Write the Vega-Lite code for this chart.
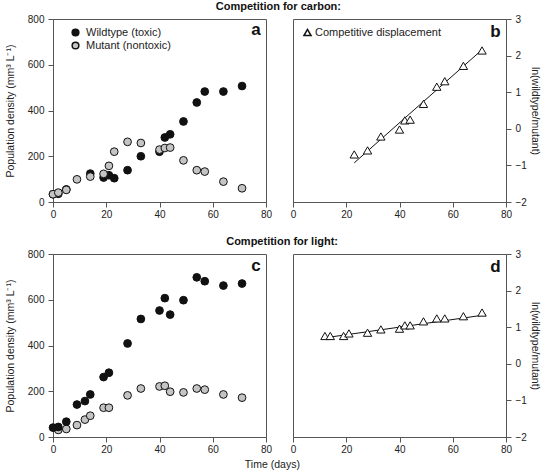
{
  "$schema": "https://vega.github.io/schema/vega-lite/v6.json",
  "padding": {"left": 4, "top": 0, "right": 1, "bottom": 1},
  "bounds": "flush",
  "columns": 2,
  "spacing": {"row": 52, "column": 27},
  "resolve": {"scale": {"fill": "independent", "shape": "independent"}, "legend": {"fill": "independent", "shape": "independent"}},
  "title": {"text": "Time (days)", "orient": "bottom", "anchor": "middle", "fontSize": 10.5, "fontWeight": "normal", "color": "#222", "offset": 5},
  "datasets": {
    "carbonPop": [
      {"day": 0, "density": 34, "strain": "Wildtype (toxic)"},
      {"day": 2, "density": 36, "strain": "Wildtype (toxic)"},
      {"day": 5, "density": 55, "strain": "Wildtype (toxic)"},
      {"day": 14, "density": 124, "strain": "Wildtype (toxic)"},
      {"day": 19, "density": 107, "strain": "Wildtype (toxic)"},
      {"day": 21, "density": 117, "strain": "Wildtype (toxic)"},
      {"day": 23, "density": 104, "strain": "Wildtype (toxic)"},
      {"day": 28, "density": 139, "strain": "Wildtype (toxic)"},
      {"day": 33, "density": 200, "strain": "Wildtype (toxic)"},
      {"day": 40, "density": 220, "strain": "Wildtype (toxic)"},
      {"day": 42, "density": 282, "strain": "Wildtype (toxic)"},
      {"day": 44, "density": 296, "strain": "Wildtype (toxic)"},
      {"day": 49, "density": 352, "strain": "Wildtype (toxic)"},
      {"day": 54, "density": 435, "strain": "Wildtype (toxic)"},
      {"day": 57, "density": 483, "strain": "Wildtype (toxic)"},
      {"day": 64, "density": 483, "strain": "Wildtype (toxic)"},
      {"day": 71, "density": 507, "strain": "Wildtype (toxic)"},
      {"day": 0, "density": 34, "strain": "Mutant (nontoxic)"},
      {"day": 2, "density": 41, "strain": "Mutant (nontoxic)"},
      {"day": 5, "density": 53, "strain": "Mutant (nontoxic)"},
      {"day": 9, "density": 99, "strain": "Mutant (nontoxic)"},
      {"day": 14, "density": 111, "strain": "Mutant (nontoxic)"},
      {"day": 19, "density": 123, "strain": "Mutant (nontoxic)"},
      {"day": 21, "density": 158, "strain": "Mutant (nontoxic)"},
      {"day": 23, "density": 220, "strain": "Mutant (nontoxic)"},
      {"day": 28, "density": 263, "strain": "Mutant (nontoxic)"},
      {"day": 33, "density": 258, "strain": "Mutant (nontoxic)"},
      {"day": 40, "density": 229, "strain": "Mutant (nontoxic)"},
      {"day": 42, "density": 236, "strain": "Mutant (nontoxic)"},
      {"day": 44, "density": 238, "strain": "Mutant (nontoxic)"},
      {"day": 49, "density": 182, "strain": "Mutant (nontoxic)"},
      {"day": 54, "density": 139, "strain": "Mutant (nontoxic)"},
      {"day": 57, "density": 133, "strain": "Mutant (nontoxic)"},
      {"day": 64, "density": 89, "strain": "Mutant (nontoxic)"},
      {"day": 71, "density": 60, "strain": "Mutant (nontoxic)"}
    ],
    "lightPop": [
      {"day": 2, "density": 31, "strain": "Mutant (nontoxic)"},
      {"day": 5, "density": 35, "strain": "Mutant (nontoxic)"},
      {"day": 9, "density": 52, "strain": "Mutant (nontoxic)"},
      {"day": 12, "density": 76, "strain": "Mutant (nontoxic)"},
      {"day": 14, "density": 93, "strain": "Mutant (nontoxic)"},
      {"day": 19, "density": 128, "strain": "Mutant (nontoxic)"},
      {"day": 21, "density": 128, "strain": "Mutant (nontoxic)"},
      {"day": 28, "density": 182, "strain": "Mutant (nontoxic)"},
      {"day": 33, "density": 212, "strain": "Mutant (nontoxic)"},
      {"day": 40, "density": 221, "strain": "Mutant (nontoxic)"},
      {"day": 42, "density": 224, "strain": "Mutant (nontoxic)"},
      {"day": 44, "density": 198, "strain": "Mutant (nontoxic)"},
      {"day": 49, "density": 195, "strain": "Mutant (nontoxic)"},
      {"day": 54, "density": 212, "strain": "Mutant (nontoxic)"},
      {"day": 57, "density": 207, "strain": "Mutant (nontoxic)"},
      {"day": 64, "density": 186, "strain": "Mutant (nontoxic)"},
      {"day": 71, "density": 172, "strain": "Mutant (nontoxic)"},
      {"day": 0, "density": 41, "strain": "Wildtype (toxic)"},
      {"day": 2, "density": 44, "strain": "Wildtype (toxic)"},
      {"day": 5, "density": 67, "strain": "Wildtype (toxic)"},
      {"day": 9, "density": 142, "strain": "Wildtype (toxic)"},
      {"day": 12, "density": 157, "strain": "Wildtype (toxic)"},
      {"day": 14, "density": 186, "strain": "Wildtype (toxic)"},
      {"day": 19, "density": 262, "strain": "Wildtype (toxic)"},
      {"day": 21, "density": 281, "strain": "Wildtype (toxic)"},
      {"day": 28, "density": 409, "strain": "Wildtype (toxic)"},
      {"day": 33, "density": 516, "strain": "Wildtype (toxic)"},
      {"day": 40, "density": 553, "strain": "Wildtype (toxic)"},
      {"day": 42, "density": 607, "strain": "Wildtype (toxic)"},
      {"day": 44, "density": 535, "strain": "Wildtype (toxic)"},
      {"day": 49, "density": 598, "strain": "Wildtype (toxic)"},
      {"day": 54, "density": 698, "strain": "Wildtype (toxic)"},
      {"day": 57, "density": 681, "strain": "Wildtype (toxic)"},
      {"day": 64, "density": 662, "strain": "Wildtype (toxic)"},
      {"day": 71, "density": 671, "strain": "Wildtype (toxic)"}
    ],
    "carbonRatio": [
      {"day": 23, "ln": -0.70, "series": "Competitive displacement"},
      {"day": 28, "ln": -0.59, "series": "Competitive displacement"},
      {"day": 33, "ln": -0.21, "series": "Competitive displacement"},
      {"day": 40, "ln": -0.02, "series": "Competitive displacement"},
      {"day": 42, "ln": 0.23, "series": "Competitive displacement"},
      {"day": 44, "ln": 0.25, "series": "Competitive displacement"},
      {"day": 49, "ln": 0.68, "series": "Competitive displacement"},
      {"day": 54, "ln": 1.15, "series": "Competitive displacement"},
      {"day": 57, "ln": 1.30, "series": "Competitive displacement"},
      {"day": 64, "ln": 1.72, "series": "Competitive displacement"},
      {"day": 71, "ln": 2.14, "series": "Competitive displacement"}
    ],
    "carbonFit": [
      {"day": 23, "ln": -0.93},
      {"day": 71, "ln": 2.16}
    ],
    "lightRatio": [
      {"day": 12, "ln": 0.76},
      {"day": 14, "ln": 0.76},
      {"day": 19, "ln": 0.76},
      {"day": 21, "ln": 0.83},
      {"day": 28, "ln": 0.85},
      {"day": 33, "ln": 0.94},
      {"day": 40, "ln": 0.96},
      {"day": 42, "ln": 1.05},
      {"day": 44, "ln": 1.05},
      {"day": 49, "ln": 1.16},
      {"day": 54, "ln": 1.24},
      {"day": 57, "ln": 1.24},
      {"day": 64, "ln": 1.30},
      {"day": 71, "ln": 1.40}
    ],
    "lightFit": [
      {"day": 11, "ln": 0.70},
      {"day": 72.5, "ln": 1.34}
    ],
    "labA": [{"label": "a"}],
    "labB": [{"label": "b"}],
    "labC": [{"label": "c"}],
    "labD": [{"label": "d"}]
  },
  "concat": [
    {
      "width": 213, "height": 183,
      "title": {"text": "Competition for carbon:", "anchor": "end", "dx": 75, "frame": "group", "fontSize": 11, "fontWeight": "bold", "offset": 2, "color": "#111"},
      "layer": [
        {
          "data": {"name": "carbonPop"},
          "mark": {"type": "point", "shape": "circle", "filled": true, "size": 60, "stroke": "#111", "strokeWidth": 1, "opacity": 1},
          "encoding": {
            "x": {"field": "day", "type": "quantitative", "scale": {"domain": [0, 80], "nice": false}, "axis": {"values": [0, 20, 40, 60, 80], "title": null, "labelOverlap": false, "labelPadding": 2}},
            "y": {"field": "density", "type": "quantitative", "scale": {"domain": [0, 800], "nice": false}, "axis": {"values": [0, 200, 400, 600, 800], "title": "Population density (mm³ L⁻¹)", "labelOverlap": false, "labelPadding": 4, "titlePadding": 12}},
            "fill": {"field": "strain", "type": "nominal", "sort": null, "scale": {"domain": ["Wildtype (toxic)", "Mutant (nontoxic)"], "range": ["#111111", "#c4c4c4"]}, "legend": {"title": null, "orient": "top-left", "offset": 8, "padding": 0, "labelFontSize": 11, "labelOffset": 5, "symbolOffset": 9, "symbolSize": 45, "rowPadding": 0, "labelColor": "#222", "encode": {"symbols": {"update": {"stroke": {"value": "#111"}, "strokeWidth": {"value": 1}}}}}}
          }
        },
        {
          "data": {"name": "labA"},
          "mark": {"type": "text", "fontSize": 17, "fontWeight": "bold", "align": "right", "baseline": "middle", "color": "#111"},
          "encoding": {"x": {"datum": 78}, "y": {"datum": 750}, "text": {"field": "label"}}
        }
      ]
    },
    {
      "width": 213, "height": 183,
      "layer": [
        {
          "data": {"name": "carbonFit"},
          "mark": {"type": "line", "color": "#111", "strokeWidth": 1},
          "encoding": {
            "x": {"field": "day", "type": "quantitative", "scale": {"domain": [0, 80], "nice": false}, "axis": {"values": [0, 20, 40, 60, 80], "title": null, "labelOverlap": false, "labelPadding": 2}},
            "y": {"field": "ln", "type": "quantitative", "scale": {"domain": [-2, 3], "nice": false, "zero": false}, "axis": {"orient": "right", "values": [-2, -1, 0, 1, 2, 3], "tickCount": 6, "title": "ln(wildtype/mutant)", "labelOverlap": false, "labelPadding": 4, "titlePadding": 3}}
          }
        },
        {
          "data": {"name": "carbonRatio"},
          "mark": {"type": "point", "filled": true, "fill": "white", "stroke": "#111", "strokeWidth": 1, "size": 70, "opacity": 1},
          "encoding": {
            "x": {"field": "day", "type": "quantitative", "scale": {"domain": [0, 80], "nice": false}, "axis": {"values": [0, 20, 40, 60, 80], "title": null, "labelOverlap": false, "labelPadding": 2}},
            "y": {"field": "ln", "type": "quantitative", "scale": {"domain": [-2, 3], "nice": false, "zero": false}, "axis": {"orient": "right", "values": [-2, -1, 0, 1, 2, 3], "tickCount": 6, "title": "ln(wildtype/mutant)", "labelOverlap": false, "labelPadding": 4, "titlePadding": 3}},
            "shape": {"field": "series", "type": "nominal", "scale": {"range": ["triangle-up"]}, "legend": {"title": null, "orient": "top-left", "offset": 8, "padding": 0, "labelFontSize": 11, "labelOffset": 2, "symbolOffset": 1, "symbolSize": 50, "labelColor": "#222", "encode": {"symbols": {"update": {"fill": {"value": "white"}, "stroke": {"value": "#111"}, "strokeWidth": {"value": 1}}}}}}
          }
        },
        {
          "data": {"name": "labB"},
          "mark": {"type": "text", "fontSize": 17, "fontWeight": "bold", "align": "right", "baseline": "middle", "color": "#111"},
          "encoding": {"x": {"datum": 78}, "y": {"datum": 2.64}, "text": {"field": "label"}}
        }
      ]
    },
    {
      "width": 213, "height": 183,
      "title": {"text": "Competition for light:", "anchor": "end", "dx": 72, "frame": "group", "fontSize": 11, "fontWeight": "bold", "offset": 2, "color": "#111"},
      "layer": [
        {
          "data": {"name": "lightPop"},
          "mark": {"type": "point", "shape": "circle", "filled": true, "size": 60, "stroke": "#111", "strokeWidth": 1, "opacity": 1},
          "encoding": {
            "x": {"field": "day", "type": "quantitative", "scale": {"domain": [0, 80], "nice": false}, "axis": {"values": [0, 20, 40, 60, 80], "title": null, "labelOverlap": false, "labelPadding": 2}},
            "y": {"field": "density", "type": "quantitative", "scale": {"domain": [0, 800], "nice": false}, "axis": {"values": [0, 200, 400, 600, 800], "title": "Population density (mm³ L⁻¹)", "labelOverlap": false, "labelPadding": 4, "titlePadding": 12}},
            "fill": {"field": "strain", "type": "nominal", "scale": {"domain": ["Wildtype (toxic)", "Mutant (nontoxic)"], "range": ["#111111", "#c4c4c4"]}, "legend": null}
          }
        },
        {
          "data": {"name": "labC"},
          "mark": {"type": "text", "fontSize": 17, "fontWeight": "bold", "align": "right", "baseline": "middle", "color": "#111"},
          "encoding": {"x": {"datum": 78}, "y": {"datum": 747}, "text": {"field": "label"}}
        }
      ]
    },
    {
      "width": 213, "height": 183,
      "layer": [
        {
          "data": {"name": "lightFit"},
          "mark": {"type": "line", "color": "#111", "strokeWidth": 1},
          "encoding": {
            "x": {"field": "day", "type": "quantitative", "scale": {"domain": [0, 80], "nice": false}, "axis": {"values": [0, 20, 40, 60, 80], "title": null, "labelOverlap": false, "labelPadding": 2}},
            "y": {"field": "ln", "type": "quantitative", "scale": {"domain": [-2, 3], "nice": false, "zero": false}, "axis": {"orient": "right", "values": [-2, -1, 0, 1, 2, 3], "tickCount": 6, "title": "ln(wildtype/mutant)", "labelOverlap": false, "labelPadding": 4, "titlePadding": 3}}
          }
        },
        {
          "data": {"name": "lightRatio"},
          "mark": {"type": "point", "shape": "triangle-up", "filled": true, "fill": "white", "stroke": "#111", "strokeWidth": 1, "size": 70, "opacity": 1},
          "encoding": {
            "x": {"field": "day", "type": "quantitative", "scale": {"domain": [0, 80], "nice": false}, "axis": {"values": [0, 20, 40, 60, 80], "title": null, "labelOverlap": false, "labelPadding": 2}},
            "y": {"field": "ln", "type": "quantitative", "scale": {"domain": [-2, 3], "nice": false, "zero": false}, "axis": {"orient": "right", "values": [-2, -1, 0, 1, 2, 3], "tickCount": 6, "title": "ln(wildtype/mutant)", "labelOverlap": false, "labelPadding": 4, "titlePadding": 3}}
          }
        },
        {
          "data": {"name": "labD"},
          "mark": {"type": "text", "fontSize": 17, "fontWeight": "bold", "align": "right", "baseline": "middle", "color": "#111"},
          "encoding": {"x": {"datum": 78}, "y": {"datum": 2.64}, "text": {"field": "label"}}
        }
      ]
    }
  ],
  "config": {
    "font": "Liberation Sans",
    "background": "white",
    "view": {"stroke": "#555", "strokeWidth": 1},
    "axis": {"domainColor": "#555", "tickColor": "#555", "tickSize": 5, "labelFontSize": 10, "titleFontSize": 10.5, "titleFontWeight": "normal", "labelColor": "#222", "titleColor": "#222", "grid": false, "labelFlush": false, "labelOverlap": false}
  }
}
